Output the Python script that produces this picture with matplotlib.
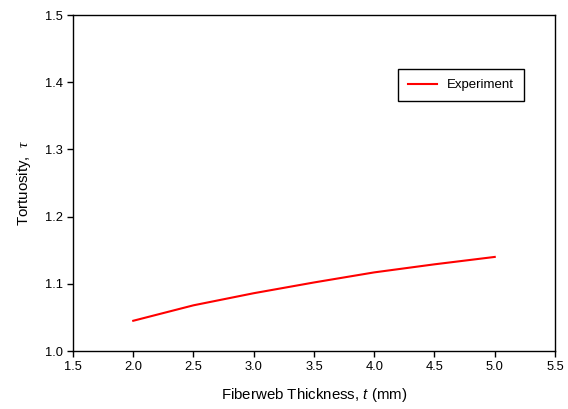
import matplotlib
matplotlib.use("Agg")
import matplotlib.pyplot as plt

plt.rcParams['font.family'] = ['Liberation Sans', 'DejaVu Sans']
plt.rcParams['mathtext.fontset'] = 'custom'
plt.rcParams['mathtext.it'] = 'Liberation Serif:italic'
plt.rcParams['mathtext.sf'] = 'Liberation Sans:italic'

thickness = [2.0, 2.5, 3.0, 3.5, 4.0, 4.5, 5.0]
tortuosity = [1.045, 1.068, 1.086, 1.102, 1.117, 1.129, 1.140]

xticks = [1.5, 2.0, 2.5, 3.0, 3.5, 4.0, 4.5, 5.0, 5.5]
yticks = [1.0, 1.1, 1.2, 1.3, 1.4, 1.5]

fig = plt.figure(figsize=(5.68, 4.09), dpi=100)
ax = fig.add_axes([0.1285, 0.1418, 0.8486, 0.8215])

ax.plot(thickness, tortuosity, color='red', lw=1.5, label='Experiment')

ax.set_xlim(1.5, 5.5)
ax.set_ylim(1.0, 1.5)
ax.set_xticks(xticks)
ax.set_yticks(yticks)
ax.set_xticklabels([f'{v:.1f}' for v in xticks])
ax.set_yticklabels([f'{v:.1f}' for v in yticks])
ax.tick_params(direction='out', length=4, width=1, labelsize=9.3, top=False, right=False)
for s in ax.spines.values():
    s.set_linewidth(1)

ax.set_xlabel(r'Fiberweb Thickness, $\mathsf{t}$ (mm)', fontsize=10.8, labelpad=9)
ax.set_ylabel(r'Tortuosity,  $\tau$', fontsize=10.8, labelpad=8)

leg = ax.legend(loc='upper left', bbox_to_anchor=(0.674, 0.839), borderaxespad=0,
                fontsize=9.5, fancybox=False, framealpha=1, edgecolor='black',
                handlelength=2.2, borderpad=0.75)
leg.get_frame().set_linewidth(1)

fig.savefig('out.png', dpi=100)
